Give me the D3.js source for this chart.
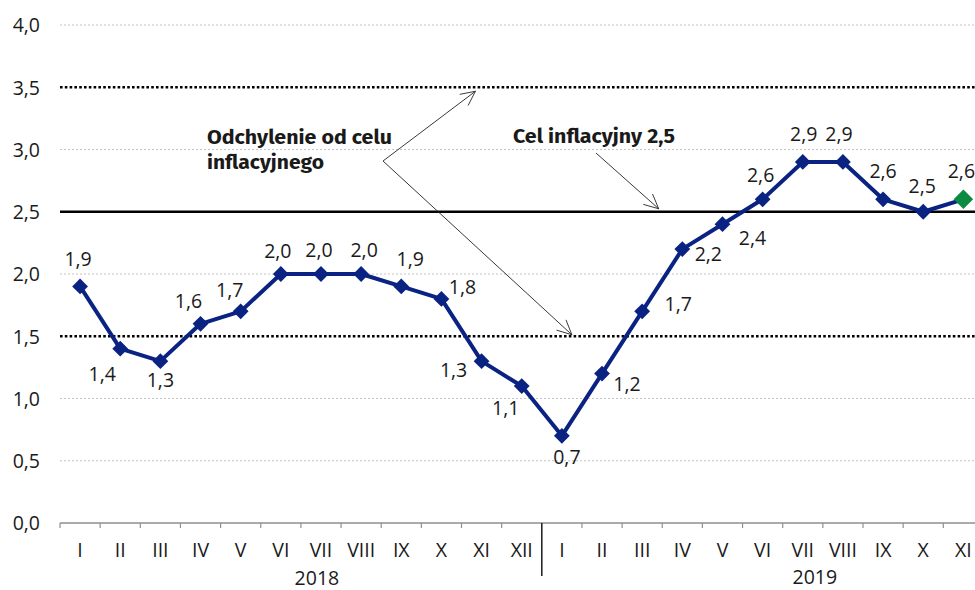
<!DOCTYPE html>
<html>
<head>
<meta charset="utf-8">
<script src="https://cdn.jsdelivr.net/npm/d3@7"></script>
<style>
  html, body { margin: 0; padding: 0; background: #fff; }
  svg { display: block; }
  text { font-family: "Open Sans", "Noto Sans", sans-serif; fill: #1a1a1a; }
</style>
</head>
<body>
<svg id="chart" width="975" height="590"></svg>
<script>
// ---- data ----
const months2018 = ["I","II","III","IV","V","VI","VII","VIII","IX","X","XI","XII"];
const months2019 = ["I","II","III","IV","V","VI","VII","VIII","IX","X","XI"];
const values2018 = [1.9,1.4,1.3,1.6,1.7,2.0,2.0,2.0,1.9,1.8,1.3,1.1];
const values2019 = [0.7,1.2,1.7,2.2,2.4,2.6,2.9,2.9,2.6,2.5,2.6];
const years = ["2018","2019"];
const yTicks = [0,0.5,1.0,1.5,2.0,2.5,3.0,3.5,4.0];
const targetValue = 2.5;
const bandLow = 1.5, bandHigh = 3.5;
const annotDeviation = ["Odchylenie od celu", "inflacyjnego"];
const annotTarget = "Cel inflacyjny 2,5";

// label offsets (dx, dy) relative to each point
const labelOffsets = [
  [-2,-20],[-18,32],[0,26],[-12,-16],[-11,-14],[-3,-16],[-2,-17],[3,-17],[9,-20],[21,-5],[-28,16],[-16,29],
  [5,28],[25,17],[36,0],[26,12],[30,21],[-2,-17],[1,-21],[-4,-21],[0,-21],[-1,-19],[-2,-21]
];

const series = [
  ...values2018.map((v,i)=>({month: months2018[i], year: years[0], v})),
  ...values2019.map((v,i)=>({month: months2019[i], year: years[1], v}))
];
series.forEach((d,i)=>d.i=i);

const fmt = v => d3.format(".1f")(v).replace(".", ",");

const svg = d3.select("#chart");
const W = 975, H = 590;
const left = 60, step = 40.15;
const x = d3.scaleBand().domain(d3.range(series.length)).range([left, left + step*series.length]).padding(0);
const cx = i => x(i) + x.bandwidth()/2;
const y = d3.scaleLinear().domain([0,4]).range([523,25]);

// grid lines
const g = svg.append("g");
yTicks.filter(t => t>0).forEach(t => {
  let line = g.append("line").attr("x1", left).attr("x2", W).attr("y1", y(t)).attr("y2", y(t));
  if (t === targetValue) {
    line.attr("stroke","#000").attr("stroke-width",2.5);
  } else if (t === bandLow || t === bandHigh) {
    line.attr("stroke","#000").attr("stroke-width",2.6).attr("stroke-dasharray","2.6,2.2");
  } else {
    line.attr("stroke","#c4c4c4").attr("stroke-width",1).attr("stroke-dasharray","2,2");
  }
});

// y axis labels
const yAxis = d3.axisLeft(y).tickValues(yTicks).tickFormat(fmt).tickSize(0).tickPadding(0);
const ya = svg.append("g").attr("transform","translate(40,0)").call(yAxis);
ya.select(".domain").remove();
ya.selectAll("text").attr("font-size",19.5).style("font-family","'Open Sans', sans-serif").attr("fill","#1a1a1a").attr("dy","0.35em");

// x axis
svg.append("line").attr("x1",left).attr("x2",W).attr("y1",y(0)).attr("y2",y(0))
  .attr("stroke","#8f8f8f").attr("stroke-width",1.6);
d3.range(series.length+1).forEach(k => {
  const xx = left + k*x.bandwidth();
  if (k === months2018.length) {
    svg.append("line").attr("x1",xx).attr("x2",xx).attr("y1",y(0)).attr("y2",576)
      .attr("stroke","#1a1a1a").attr("stroke-width",1.5);
  } else {
    svg.append("line").attr("x1",xx).attr("x2",xx).attr("y1",y(0)).attr("y2",y(0)+5)
      .attr("stroke","#8f8f8f").attr("stroke-width",1.2);
  }
});
svg.append("g").selectAll("text").data(series).join("text")
  .attr("x", d=>cx(d.i)).attr("y", 557).attr("text-anchor","middle").attr("font-size",19.5)
  .text(d=>d.month);

// year labels
const y2018x = (cx(6)+cx(5))/2 + 16;
const y2019x = (cx(19)+cx(18))/2 - 8;
svg.append("text").attr("x", y2018x).attr("y", 585).attr("text-anchor","middle").attr("font-size",19.5).text(years[0]);
svg.append("text").attr("x", y2019x).attr("y", 584).attr("text-anchor","middle").attr("font-size",19.5).text(years[1]);

// line
const navy = "#0a2382";
svg.append("path").datum(series)
  .attr("d", d3.line().x(d=>cx(d.i)).y(d=>y(d.v)))
  .attr("fill","none").attr("stroke",navy).attr("stroke-width",4).attr("stroke-linejoin","round");

const last = series.length - 1;
svg.append("g").selectAll("path").data(series).join("path")
  .attr("transform", d=>`translate(${cx(d.i)},${y(d.v)}) rotate(45)`)
  .attr("d", d => d3.symbol().type(d3.symbolSquare).size(d.i===last ? 190 : 125)())
  .attr("fill", d=> d.i===last ? "#0a8a43" : navy);

// value labels
svg.append("g").selectAll("text").data(series).join("text")
  .attr("x", d=>cx(d.i)+labelOffsets[d.i][0])
  .attr("y", d=>y(d.v)+labelOffsets[d.i][1])
  .attr("text-anchor","middle").attr("font-size",19.5)
  .text(d=>fmt(d.v));

// annotations
const bold = "'Fira Sans','Roboto','Open Sans',sans-serif";
svg.append("text").attr("x",207).attr("y",144).attr("font-size",19).attr("font-weight","bold")
  .style("font-family",bold).attr("textLength",185).attr("lengthAdjust","spacingAndGlyphs").text(annotDeviation[0]);
svg.append("text").attr("x",207).attr("y",169).attr("font-size",19).attr("font-weight","bold")
  .style("font-family",bold).attr("textLength",117).attr("lengthAdjust","spacingAndGlyphs").text(annotDeviation[1]);
svg.append("text").attr("x",513).attr("y",143).attr("font-size",19).attr("font-weight","bold")
  .style("font-family",bold).attr("textLength",162).attr("lengthAdjust","spacingAndGlyphs").text(annotTarget);

function arrow(x1,y1,x2,y2) {
  svg.append("line").attr("x1",x1).attr("y1",y1).attr("x2",x2).attr("y2",y2)
    .attr("stroke","#222").attr("stroke-width",0.9);
  const a = Math.atan2(y2-y1, x2-x1), L = 16, spread = 0.45;
  [a+Math.PI-spread, a+Math.PI+spread].forEach(b => {
    svg.append("line").attr("x1",x2).attr("y1",y2)
      .attr("x2",x2+L*Math.cos(b)).attr("y2",y2+L*Math.sin(b))
      .attr("stroke","#222").attr("stroke-width",0.9);
  });
}
const vx = 383, vy = 161;
arrow(vx, vy, cx(9)+34, y(bandHigh)+4);
arrow(vx, vy, cx(12)+10, y(bandLow)-1.5);
arrow(596, 153, cx(14)+16.5, y(targetValue)-3);
</script>
</body>
</html>
